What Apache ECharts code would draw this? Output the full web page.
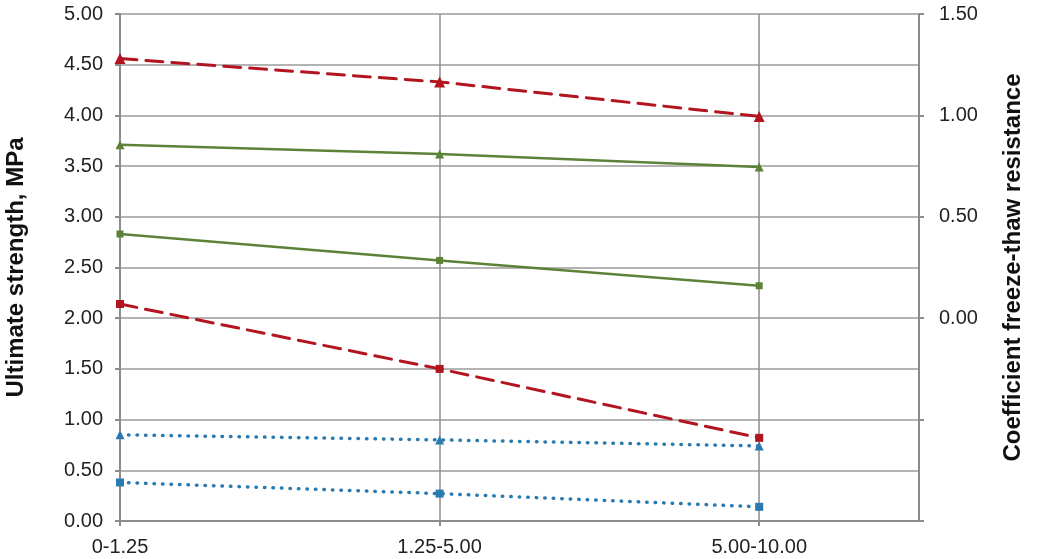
<!DOCTYPE html>
<html>
<head>
<meta charset="utf-8">
<script src="https://cdn.jsdelivr.net/npm/echarts@6/dist/echarts.min.js"></script>
<style>
  html, body { margin: 0; padding: 0; background: #fff; }
  #chart { width: 1041px; height: 559px; }
</style>
</head>
<body>
<div id="chart"></div>
<script>
// fractions on the x axis
const categories = ['0-1.25', '1.25-5.00', '5.00-10.00'];

// values (MPa, left axis)
const redTriangle = [4.56, 4.33, 3.99];
const greenTriangle = [3.71, 3.62, 3.49];
const greenSquare = [2.83, 2.57, 2.32];
const redSquare = [2.14, 1.50, 0.82];
const blueTriangle = [0.85, 0.80, 0.74];
const blueSquare = [0.38, 0.27, 0.14];

const RED = '#B31520';
const GREEN = '#5C8238';
const BLUE = '#2A7AB0';

const font = 'Liberation Sans, Arial, sans-serif';

function toPoints(arr) {
  return arr.map((v, i) => [i, v]);
}

function makeSeries(name, values, color, lineType, width, symbol, size) {
  return {
    name: name,
    type: 'line',
    yAxisIndex: 0,
    data: toPoints(values),
    symbol: symbol,
    symbolSize: size,
    itemStyle: { color: color },
    lineStyle: { color: color, width: width, type: lineType, cap: 'round' },
    z: 3
  };
}

const chart = echarts.init(document.getElementById('chart'), null, { renderer: 'canvas' });

const option = {
  animation: false,
  textStyle: { fontFamily: font },
  grid: { left: 120, right: 122, top: 14, bottom: 38, containLabel: false, outerBoundsMode: 'none' },
  xAxis: {
    type: 'value',
    min: 0,
    max: 2.5,
    interval: 1,
    axisLine: { show: true, onZero: false, lineStyle: { color: '#8c8c8c', width: 2 } },
    axisTick: { show: true, length: 5, lineStyle: { color: '#8c8c8c', width: 2 } },
    axisLabel: {
      color: '#222',
      fontSize: 20,
      fontFamily: font,
      margin: 16,
      showMaxLabel: false,
      formatter: function (v) { return categories[v] !== undefined ? categories[v] : ''; }
    },
    splitLine: { show: true, lineStyle: { color: '#8c8c8c', width: 1.5 } }
  },
  yAxis: [
    {
      type: 'value',
      min: 0,
      max: 5,
      interval: 0.5,
      name: 'Ultimate strength, MPa',
      nameLocation: 'middle',
      nameGap: 92,
      nameTextStyle: { fontSize: 24, fontWeight: 'bold', color: '#111', fontFamily: font },
      axisLine: { show: true, lineStyle: { color: '#8c8c8c', width: 2 } },
      axisTick: { show: true, length: 5, lineStyle: { color: '#8c8c8c', width: 2 } },
      axisLabel: {
        color: '#222',
        fontSize: 20,
        fontFamily: font,
        margin: 17,
        formatter: function (v) { return v.toFixed(2); }
      },
      splitLine: { show: true, lineStyle: { color: '#9a9a9a', width: 1.5 } }
    },
    {
      type: 'value',
      min: -1,
      max: 1.5,
      interval: 0.5,
      position: 'right',
      name: 'Coefficient freeze-thaw resistance',
      nameLocation: 'middle',
      nameGap: 82,
      nameRotate: 90,
      nameTextStyle: { fontSize: 24, fontWeight: 'bold', color: '#111', fontFamily: font },
      axisLine: { show: true, lineStyle: { color: '#8c8c8c', width: 2 } },
      axisTick: { show: true, length: 5, lineStyle: { color: '#8c8c8c', width: 2 } },
      axisLabel: {
        color: '#222',
        fontSize: 20,
        fontFamily: font,
        margin: 20,
        formatter: function (v) { return v < 0 ? '' : v.toFixed(2); }
      },
      splitLine: { show: false }
    }
  ],
  series: [
    makeSeries('red triangle', redTriangle, RED, [17, 9], 3, 'triangle', 11),
    makeSeries('green triangle', greenTriangle, GREEN, 'solid', 2.5, 'triangle', 9),
    makeSeries('green square', greenSquare, GREEN, 'solid', 2.5, 'rect', 7),
    makeSeries('red square', redSquare, RED, [17, 9], 3, 'rect', 8),
    makeSeries('blue triangle', blueTriangle, BLUE, [0.5, 8], 3.5, 'triangle', 9),
    makeSeries('blue square', blueSquare, BLUE, [0.5, 8], 3.5, 'rect', 8)
  ]
};

chart.setOption(option);
</script>
</body>
</html>
